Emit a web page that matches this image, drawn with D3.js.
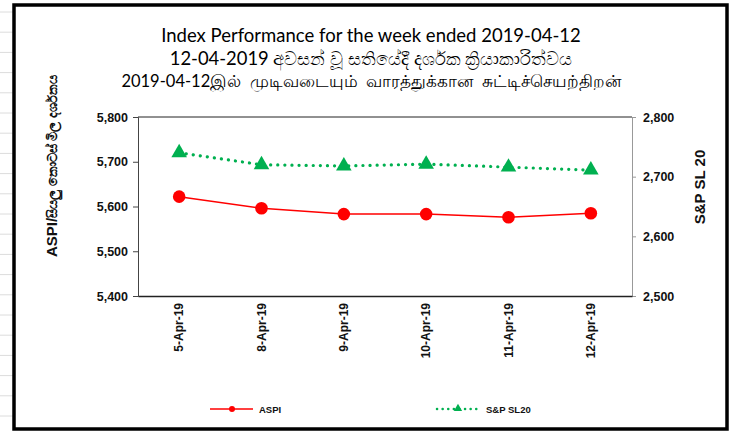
<!DOCTYPE html>
<html lang="en">

<head>
    <meta charset="UTF-8">
    <title>Index Performance</title>
</head>
<style>
    html,
    body {
        margin: 0;
        padding: 0;
        background: #fff;
    }
    svg { display: block; }
</style>

<body>
    <script src="https://cdn.jsdelivr.net/npm/d3@7"></script>
    <script>
        // data
        var dates = ['5-Apr-19', '8-Apr-19', '9-Apr-19', '10-Apr-19', '11-Apr-19', '12-Apr-19'];
        var aspi = [5622, 5596, 5583, 5583, 5576, 5585];
        var snp = [2740, 2720, 2718, 2721, 2716, 2711];
        var leftTicks = [5400, 5500, 5600, 5700, 5800];
        var rightTicks = [2500, 2600, 2700, 2800];
        var titleLines = [
            'Index Performance for the week ended 2019-04-12',
            '12-04-2019 අවසන් වූ සතියේදී දර්ශක ක්‍රියාකාරිත්වය',
            '2019-04-12இல்\u00a0 முடிவடையும்\u00a0 வாரத்துக்கான\u00a0 சுட்டிச்செயற்திறன்'
        ];
        var titleSize = [18.5, 18.4, 16.5];

        var W = 730, H = 431;
        var plot = { left: 138, right: 632, top: 117, bottom: 296 };
        var red = '#ff0000', green = '#00b050';

        var svg = d3.select('body').append('svg').attr('width', W).attr('height', H);

        // faint sheet grid outside the chart frame
        svg.selectAll('.row').data(d3.range(12, 431, 20.2)).enter().append('line')
            .attr('x1', 0).attr('x2', 13).attr('y1', d => d).attr('y2', d => d)
            .attr('stroke', '#dcdcdc').attr('stroke-width', 1);

        // chart frame
        svg.append('rect').attr('x', 14).attr('y', 5).attr('width', 713).attr('height', 424)
            .attr('fill', '#fff').attr('stroke', '#000').attr('stroke-width', 3.5);

        // title
        svg.append('g').selectAll('text').data(titleLines).enter().append('text')
            .attr('x', 371).attr('y', (d, i) => 42 + i * 22.5)
            .attr('text-anchor', 'middle')
            .style('font-family', 'Lato, "Noto Sans", sans-serif')
            .style('font-size', (d, i) => titleSize[i] + 'px')
            .attr('fill', '#000').text(d => d);

        // scales
        var x = d3.scaleBand().domain(dates).range([plot.left, plot.right]);
        var cx = d => x(d) + x.bandwidth() / 2;
        var yL = d3.scaleLinear().domain([5400, 5800]).range([plot.bottom, plot.top]);
        var yR = d3.scaleLinear().domain([2500, 2800]).range([plot.bottom, plot.top]);

        // plot area border
        svg.append('line').attr('x1', plot.left).attr('x2', plot.right).attr('y1', plot.top).attr('y2', plot.top)
            .attr('stroke', '#222').attr('stroke-width', 1);

        var axisFont = 'Liberation Sans, Arial, sans-serif';

        var gL = svg.append('g').attr('transform', 'translate(' + plot.left + ',0)')
            .call(d3.axisLeft(yL).tickValues(leftTicks).tickFormat(d3.format(',')).tickSize(5).tickPadding(5));
        gL.select('.domain').attr('stroke', '#444');
        gL.selectAll('.tick line').attr('stroke', '#444');
        gL.selectAll('text').style('font-family', axisFont).style('font-size', '12.5px')
            .style('font-weight', 'bold').attr('fill', '#111');

        var gR = svg.append('g').attr('transform', 'translate(' + plot.right + ',0)')
            .call(d3.axisRight(yR).tickValues(rightTicks).tickFormat(d3.format(',')).tickSize(4).tickPadding(7));
        gR.select('.domain').attr('stroke', '#999');
        gR.selectAll('.tick line').attr('stroke', '#999');
        gR.selectAll('text').style('font-family', axisFont).style('font-size', '12.5px')
            .style('font-weight', 'bold').attr('fill', '#111');

        var gX = svg.append('g').attr('transform', 'translate(0,' + plot.bottom + ')')
            .call(d3.axisBottom(x).tickSize(0).tickPadding(0));
        gX.select('.domain').attr('stroke', '#222').attr('stroke-width', 1.5);
        gX.selectAll('text')
            .attr('transform', 'translate(0,7) rotate(-90)')
            .attr('x', 0).attr('y', 0).attr('dy', '0.35em')
            .attr('text-anchor', 'end')
            .style('font-family', axisFont).style('font-size', '12px')
            .style('font-weight', 'bold').attr('fill', '#111');

        // axis titles
        var lt = svg.append('text')
            .attr('transform', 'translate(57,257) rotate(-90)')
            .attr('text-anchor', 'start').attr('fill', '#111');
        lt.append('tspan').text('ASPI/')
            .style('font-family', axisFont).style('font-size', '15px').style('font-weight', 'bold');
        lt.append('tspan').text('සියලු කොටස් මිල දර්ශකය')
            .style('font-family', axisFont).style('font-size', '13px').style('font-weight', 'bold');

        svg.append('text')
            .attr('transform', 'translate(705,187) rotate(-90)')
            .attr('text-anchor', 'middle').attr('fill', '#111')
            .style('font-family', axisFont).style('font-size', '15px').style('font-weight', 'bold')
            .text('S&P SL 20');

        // series
        var lineL = d3.line().x((d, i) => cx(dates[i])).y(d => yL(d));
        var lineR = d3.line().x((d, i) => cx(dates[i])).y(d => yR(d));

        svg.append('path').datum(aspi).attr('d', lineL)
            .attr('fill', 'none').attr('stroke', red).attr('stroke-width', 1.5);
        svg.selectAll('.pt').data(aspi).enter().append('circle')
            .attr('cx', (d, i) => cx(dates[i])).attr('cy', d => yL(d)).attr('r', 6.3).attr('fill', red);

        svg.append('path').datum(snp).attr('d', lineR)
            .attr('fill', 'none').attr('stroke', green).attr('stroke-width', 3.2)
            .attr('stroke-linecap', 'round').attr('stroke-dasharray', '0.1,7');
        var tri = d3.symbol().type(d3.symbolTriangle).size(105);
        svg.selectAll('.tri').data(snp).enter().append('path')
            .attr('d', tri)
            .attr('transform', (d, i) => 'translate(' + cx(dates[i]) + ',' + yR(d) + ')')
            .attr('fill', green);

        // legend
        var lg = svg.append('g').style('font-family', axisFont).style('font-size', '9.5px').style('font-weight', 'bold');
        lg.append('line').attr('x1', 210).attr('x2', 253).attr('y1', 409).attr('y2', 409)
            .attr('stroke', red).attr('stroke-width', 1.5);
        lg.append('circle').attr('cx', 232).attr('cy', 409).attr('r', 3).attr('fill', red);
        lg.append('text').attr('x', 259).attr('y', 412.5).attr('fill', '#111').text('ASPI');

        lg.append('line').attr('x1', 437).attr('x2', 478).attr('y1', 409).attr('y2', 409)
            .attr('stroke', green).attr('stroke-width', 2.5)
            .attr('stroke-linecap', 'round').attr('stroke-dasharray', '0.1,5.5');
        lg.append('path').attr('d', d3.symbol().type(d3.symbolTriangle).size(30))
            .attr('transform', 'translate(458,408.5)').attr('fill', green);
        lg.append('text').attr('x', 486).attr('y', 412.5).attr('fill', '#111').text('S&P SL20');
    </script>
</body>

</html>
